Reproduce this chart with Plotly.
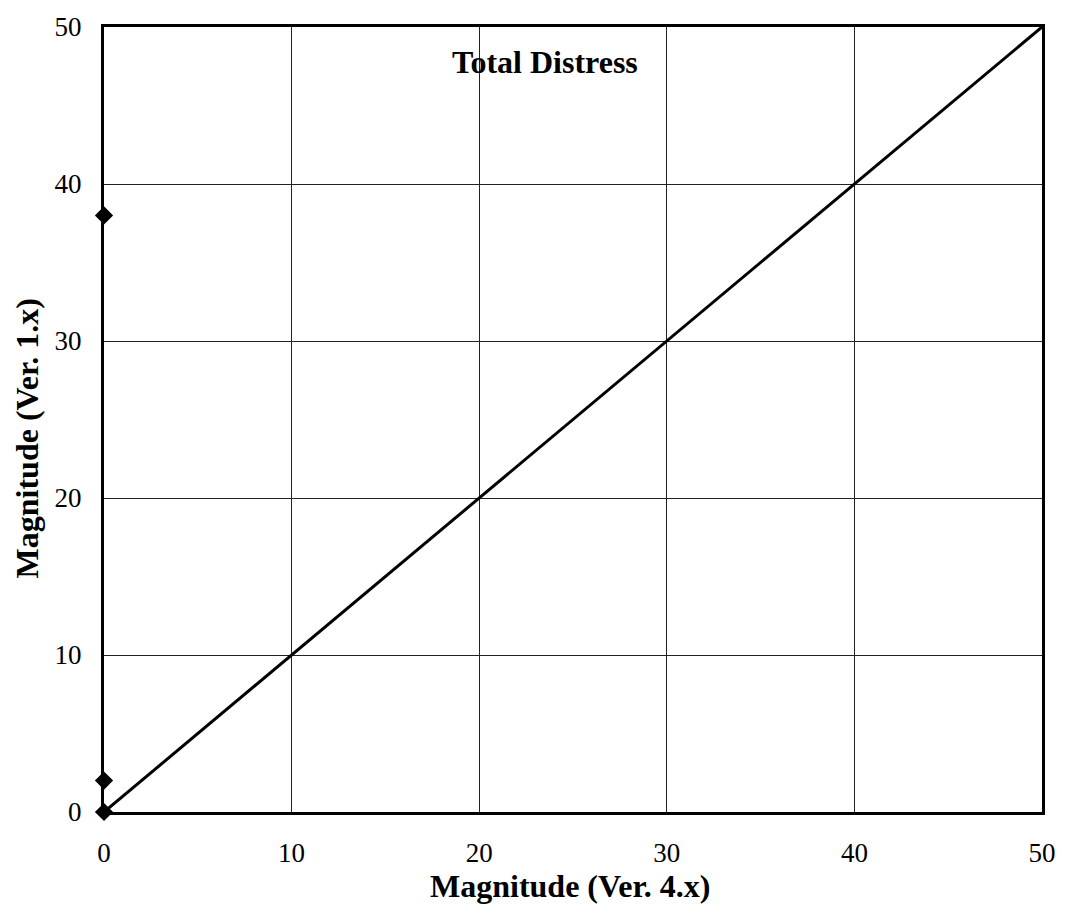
import plotly.graph_objects as go

# Data
ver4_points = [0, 0, 0]
ver1_points = [38, 2, 0]
line_x = [0, 50]
line_y = [0, 50]
tick_vals = [0, 10, 20, 30, 40, 50]
tick_text = ["0", "10", "20", "30", "40", "50"]

fig = go.Figure()
fig.add_trace(go.Scatter(x=line_x, y=line_y, mode="lines",
                         line=dict(color="black", width=3), showlegend=False,
                         cliponaxis=False))
fig.add_trace(go.Scatter(x=ver4_points, y=ver1_points, mode="markers",
                         marker=dict(symbol="diamond", color="black", size=14),
                         showlegend=False, cliponaxis=False))

font_family = "Liberation Serif, Times New Roman, serif"
axis_common = dict(range=[0, 50], tickvals=tick_vals, ticktext=tick_text,
                   showgrid=True, gridcolor="#222", gridwidth=1,
                   showline=True, linecolor="black", linewidth=3, mirror=True,
                   zeroline=False, ticks="",
                   tickfont=dict(family=font_family, size=27, color="black"))

fig.update_layout(
    width=1068, height=915,
    margin=dict(l=104, r=20, t=16, b=103),
    paper_bgcolor="white", plot_bgcolor="white",
    xaxis=dict(**axis_common, ticklabelstandoff=15),
    yaxis=dict(**axis_common, ticklabelstandoff=14),
    annotations=[
        dict(text="<b>Total Distress</b>", x=23.5, y=47.8, xref="x", yref="y",
             showarrow=False, xanchor="center", yanchor="middle",
             font=dict(family=font_family, size=32, color="black")),
        dict(text="<b>Magnitude (Ver. 4.x)</b>", x=0.497, y=-0.094,
             xref="paper", yref="paper", showarrow=False,
             xanchor="center", yanchor="middle",
             font=dict(family=font_family, size=32, color="black")),
        dict(text="<b>Magnitude (Ver. 1.x)</b>", x=-0.082, y=0.476,
             xref="paper", yref="paper", showarrow=False, textangle=-90,
             xanchor="center", yanchor="middle",
             font=dict(family=font_family, size=32, color="black")),
    ],
)

fig.write_html("out.html", post_script="document.body.style.margin='0';",
               config={"displayModeBar": False})
